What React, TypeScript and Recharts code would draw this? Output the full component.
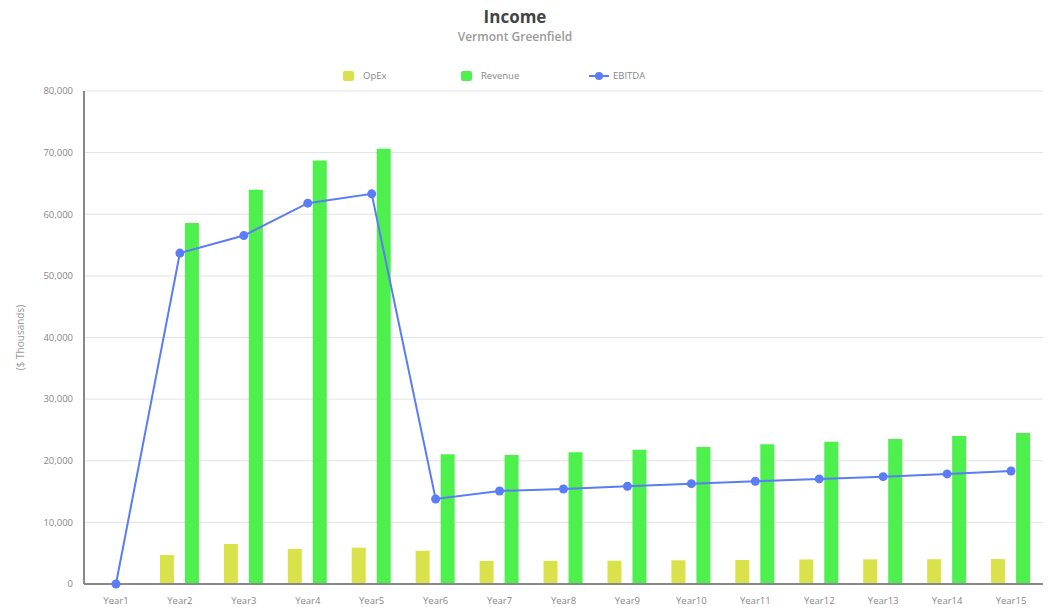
import React from "react";
import {
  ComposedChart,
  Bar,
  Line,
  XAxis,
  YAxis,
  CartesianGrid,
} from "recharts";

// Income projection for Vermont Greenfield, $ thousands
const years = [
  "Year1", "Year2", "Year3", "Year4", "Year5", "Year6", "Year7", "Year8",
  "Year9", "Year10", "Year11", "Year12", "Year13", "Year14", "Year15",
];
const opex = [0, 4700, 6500, 5700, 5900, 5400, 3750, 3750, 3780, 3840, 3900, 3980, 4000, 4020, 4050];
const revenue = [0, 58560, 63960, 68720, 70620, 21050, 20950, 21380, 21800, 22240, 22680, 23100, 23540, 24030, 24510];
const ebitda = [0, 53700, 56540, 61800, 63310, 13800, 15100, 15420, 15860, 16280, 16670, 17050, 17420, 17860, 18340];
const yTicks = [0, 10000, 20000, 30000, 40000, 50000, 60000, 70000, 80000];

const data = years.map((year, i) => ({
  year,
  OpEx: opex[i],
  Revenue: revenue[i],
  EBITDA: ebitda[i],
}));

const OPEX_COLOR = "#d9e24a";
const REVENUE_COLOR = "#4ef04e";
const EBITDA_COLOR = "#5a7cf6";
const FONT = "'Open Sans', 'Noto Sans', sans-serif";

const fmt = (v: number) => v.toLocaleString("en-US");

function LegendRow() {
  const text: React.CSSProperties = {
    position: "absolute",
    top: 69,
    fontSize: 9.5,
    color: "#888",
    fontFamily: FONT,
    lineHeight: "14px",
  };
  return (
    <>
      <div style={{ position: "absolute", left: 343, top: 71, width: 11, height: 10, background: OPEX_COLOR, borderRadius: 2 }} />
      <div style={{ ...text, left: 363 }}>OpEx</div>
      <div style={{ position: "absolute", left: 461, top: 71, width: 11, height: 10, background: REVENUE_COLOR, borderRadius: 2 }} />
      <div style={{ ...text, left: 481 }}>Revenue</div>
      <svg style={{ position: "absolute", left: 588, top: 70 }} width={22} height={12}>
        <line x1={1} y1={6} x2={21} y2={6} stroke={EBITDA_COLOR} strokeWidth={2} />
        <circle cx={11} cy={6} r={4} fill={EBITDA_COLOR} />
      </svg>
      <div style={{ ...text, left: 613 }}>EBITDA</div>
    </>
  );
}

export default function App() {
  return (
    <div
      style={{
        position: "absolute",
        left: 0,
        top: 0,
        width: 1050,
        height: 611,
        background: "#fff",
        fontFamily: FONT,
      }}
    >
      <div
        style={{
          position: "absolute",
          top: 5,
          left: 0,
          width: 1030,
          textAlign: "center",
          fontSize: 17,
          fontWeight: 700,
          color: "#444",
          lineHeight: "24px",
        }}
      >
        Income
      </div>
      <div
        style={{
          position: "absolute",
          top: 28,
          left: 0,
          width: 1030,
          textAlign: "center",
          fontSize: 12,
          fontWeight: 600,
          color: "#9a9a9a",
          lineHeight: "18px",
        }}
      >
        Vermont Greenfield
      </div>
      <LegendRow />
      <div style={{ position: "absolute", left: 0, top: 0 }}>
        <ComposedChart
          width={1050}
          height={611}
          data={data}
          margin={{ top: 91, right: 7, bottom: 0, left: 9 }}
          barGap={11}
        >
          <CartesianGrid vertical={false} stroke="#e2e2e2" strokeWidth={1} />
          <XAxis
            dataKey="year"
            height={27}
            tickLine={false}
            tickSize={0}
            tickMargin={13}
            axisLine={{ stroke: "#888", strokeWidth: 2 }}
            tick={{ fontSize: 9.5, fill: "#888", fontFamily: FONT }}
            interval={0}
          />
          <YAxis
            width={75}
            domain={[0, 80000]}
            ticks={yTicks}
            tickFormatter={fmt}
            tickLine={false}
            tickSize={0}
            tickMargin={11}
            axisLine={{ stroke: "#888", strokeWidth: 2 }}
            tick={{ fontSize: 9.5, fill: "#888", fontFamily: FONT }}
            label={{
              value: "($ Thousands)",
              angle: -90,
              position: "insideLeft",
              offset: 11,
              style: { fontSize: 10, fill: "#999", fontFamily: FONT, textAnchor: "middle" },
            }}
          />
          <Bar dataKey="OpEx" fill={OPEX_COLOR} barSize={14} isAnimationActive={false} />
          <Bar dataKey="Revenue" fill={REVENUE_COLOR} barSize={14} isAnimationActive={false} />
          <Line
            dataKey="EBITDA"
            type="linear"
            stroke={EBITDA_COLOR}
            strokeWidth={2}
            dot={{ r: 4.5, fill: EBITDA_COLOR, stroke: EBITDA_COLOR, strokeWidth: 0 }}
            activeDot={false}
            isAnimationActive={false}
          />
        </ComposedChart>
      </div>
    </div>
  );
}
